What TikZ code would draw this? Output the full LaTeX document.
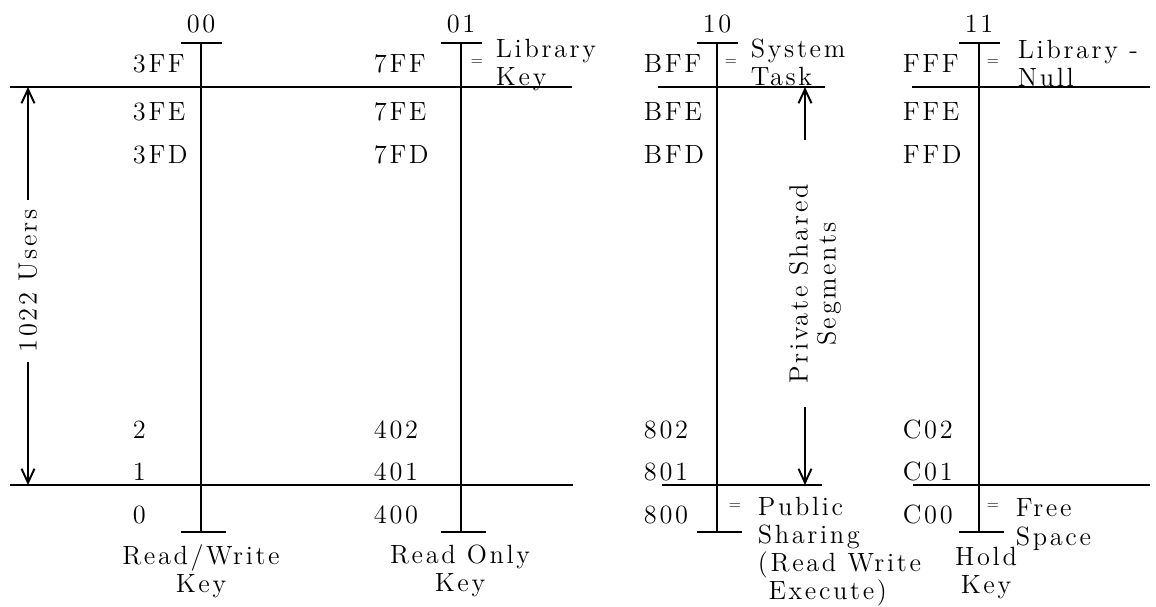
\documentclass[tikz,border=0pt]{standalone}
\usepackage{fontspec}
\newfontfamily\keyfont{lmroman12-regular.otf}[LetterSpace=10]
\usetikzlibrary{arrows.meta}
\tikzset{
  lab/.style={font=\keyfont\fontsize{15}{16}\selectfont,inner sep=0pt},
  note/.style={lab,align=left,anchor=north west},
  eqs/.style={font=\keyfont\fontsize{9}{10}\selectfont,inner sep=0pt},
  span/.style={-{Straight Barb[length=2.8mm,width=2.6mm]}},
}
\begin{document}
\begin{tikzpicture}[x=.02cm,y=-.02cm,line width=1.1pt]
\useasboundingbox (0,0) rectangle (1156,606);
% one column per key
\foreach \x/\k in {201/00,461/01,717/10,979/11} {
  \coordinate (top\k) at (\x,43);
  \coordinate (bot\k) at (\x,532);
  \draw (top\k) -- (bot\k);
  \draw (\x-20,43) -- (\x+21,43);
  \draw (\x-20,532) -- (\x+25,532);
  \node[lab,anchor=base] (key\k) at (\x,32) {\k};
}
% segment numbers
\foreach \x/\hi/\lo in {132/3F/,373/7F/40,643/BF/80,902/FF/C0} {
  \foreach \y/\d in {72/F,120/E,163/D}
    \node[lab,anchor=base west] (r\hi\d) at (\x,\y) {\hi\d};
  \foreach \y/\d in {438/2,480/1,523/0}
    \node[lab,anchor=base west] (r\lo\d) at (\x,\y) {\lo\d};
}
% boundary lines
\draw (10,87) -- (572,87) (658,87) -- (825,87) (912,87) -- (1150,87);
\draw (10,485) -- (573,485) (662,485) -- (822,485) (913,485) -- (1150,485);

\node[eqs] (eq01) at (477,63) {=};
\node[note] (libkey) at (495,38) {Library\\Key};
\node[eqs] (eq10) at (731,63) {=};
\node[note] (systask) at (750,38) {System\\Task};
\node[eqs] (eq11) at (993,63) {=};
\node[note] (libnull) at (1017,39) {Library -\\Null};
\node[eqs] (eq800) at (735,507) {=};
\node[note] (public) at (757,496) {Public\\Sharing\\(Read Write\\\hspace{6pt}Execute)};
\node[eqs] (eqc00) at (993,507) {=};
\node[note] (free) at (1015,498) {Free\\Space};

\node[lab,align=center,anchor=north] (rw) at (201,544) {Read/Write\\Key};
\node[lab,align=center,anchor=north] (ro) at (460,544) {Read Only\\Key};
\node[lab,align=center,anchor=north] (hold) at (986,546) {Hold\\Key};

% user range
\coordinate (utop) at (28,87);
\coordinate (ubot) at (28,485);
\node[lab,rotate=90,inner sep=5pt] (users) at (28,281) {1022 Users};
\draw[span] (users) -- (utop);
\draw[span] (users) -- (ubot);

% private shared range
\coordinate (ptop) at (805,87);
\coordinate (pbot) at (805,485);
\coordinate (pa) at (805,140);
\coordinate (pb) at (805,407);
\node[lab,rotate=90,align=center] (shared) at (815,284) {Private Shared\\Segments};
\draw[span] (pa) -- (ptop);
\draw[span] (pb) -- (pbot);
\end{tikzpicture}
\end{document}
